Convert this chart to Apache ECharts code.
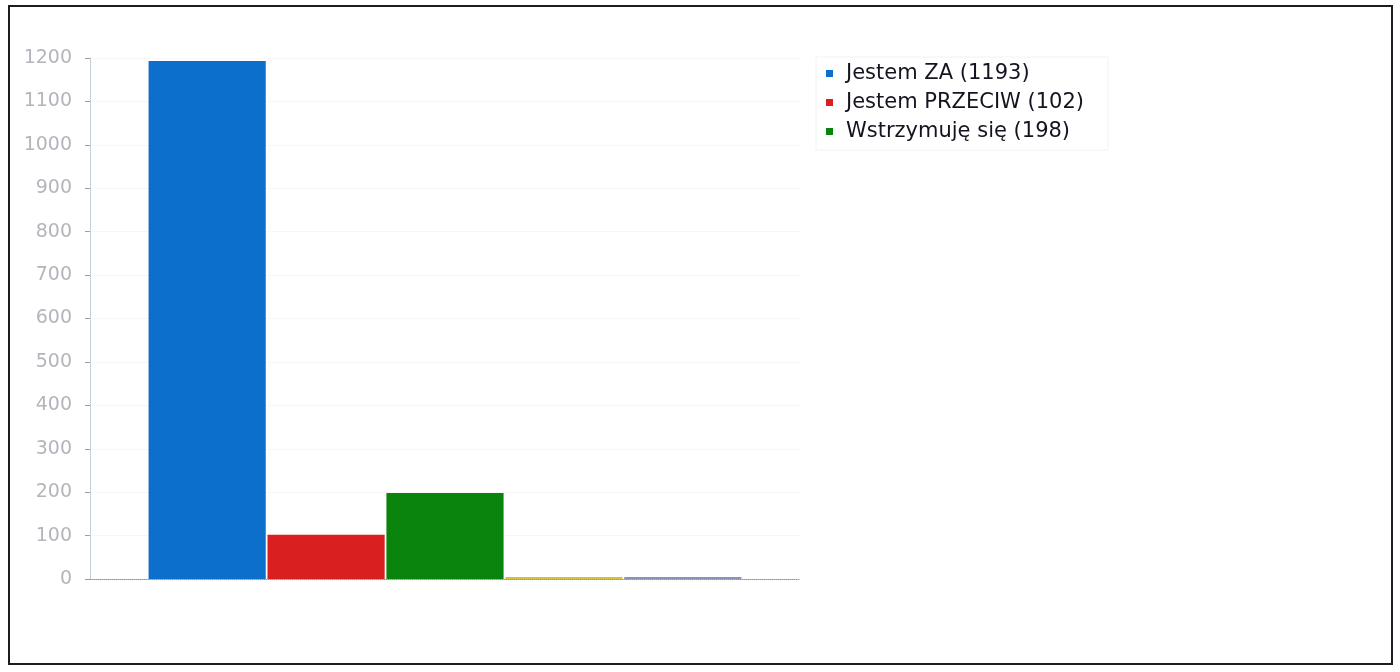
<!DOCTYPE html>
<html>
<head>
<meta charset="utf-8">
<script src="https://cdn.jsdelivr.net/npm/echarts@6/dist/echarts.min.js"></script>
<style>
  html, body { margin: 0; padding: 0; background: #fff; }
  #frame {
    position: absolute; left: 8px; top: 5px;
    width: 1381px; height: 656px;
    border: 2px solid #1c1c24;
  }
  #chart { width: 100%; height: 100%; }
</style>
</head>
<body>
<div id="frame"><div id="chart"></div></div>
<script>
const categories = ['']
const seriesNames = ['Jestem ZA (1193)', 'Jestem PRZECIW (102)', 'Wstrzymuję się (198)', '', ' ']
const seriesValues = [1193, 102, 198, 0, 0]
const seriesColors = ['#0b6fcb', '#d91f1f', '#0a840c', '#d8c23a', '#8a92b8']
const yTicks = { min: 0, max: 1200, interval: 100 }

const chart = echarts.init(document.getElementById('chart'))

chart.setOption({
  animation: false,
  textStyle: { fontFamily: 'DejaVu Sans' },
  grid: { left: 80, top: 51, width: 710, height: 521 },
  legend: {
    data: seriesNames.slice(0, 3),
    orient: 'vertical',
    left: 806,
    top: 50,
    padding: [6, 24, 8, 10],
    borderColor: '#f2f2f2',
    borderWidth: 1,
    icon: 'rect',
    itemWidth: 7,
    itemHeight: 7,
    itemGap: 8,
    textStyle: { fontSize: 21, color: '#141420', padding: [0, 0, 0, 8] },
  },
  xAxis: {
    type: 'category',
    data: categories,
    axisLine: { lineStyle: { color: '#8a92b0', width: 1, type: 'dotted' } },
    axisTick: { show: false },
    axisLabel: { show: false },
  },
  yAxis: {
    type: 'value',
    min: yTicks.min,
    max: yTicks.max,
    interval: yTicks.interval,
    axisLine: { show: true, lineStyle: { color: '#b8c4cc', type: 'dotted' } },
    axisTick: { show: true, length: 5, lineStyle: { color: '#9aa0aa' } },
    axisLabel: {
      fontSize: 19,
      color: '#b4b4bc',
      margin: 18,
      formatter: (v) => String(v),
    },
    splitLine: { lineStyle: { color: '#eeeeee', type: 'dotted' } },
  },
  series: seriesValues.map((v, i) => ({
    type: 'bar',
    name: seriesNames[i],
    data: [v],
    barMinHeight: i > 2 ? 2 : 0,
    barGap: '1.5%',
    barCategoryGap: '16.5%',
    itemStyle: { color: seriesColors[i] },
  })),
})
</script>
</body>
</html>
